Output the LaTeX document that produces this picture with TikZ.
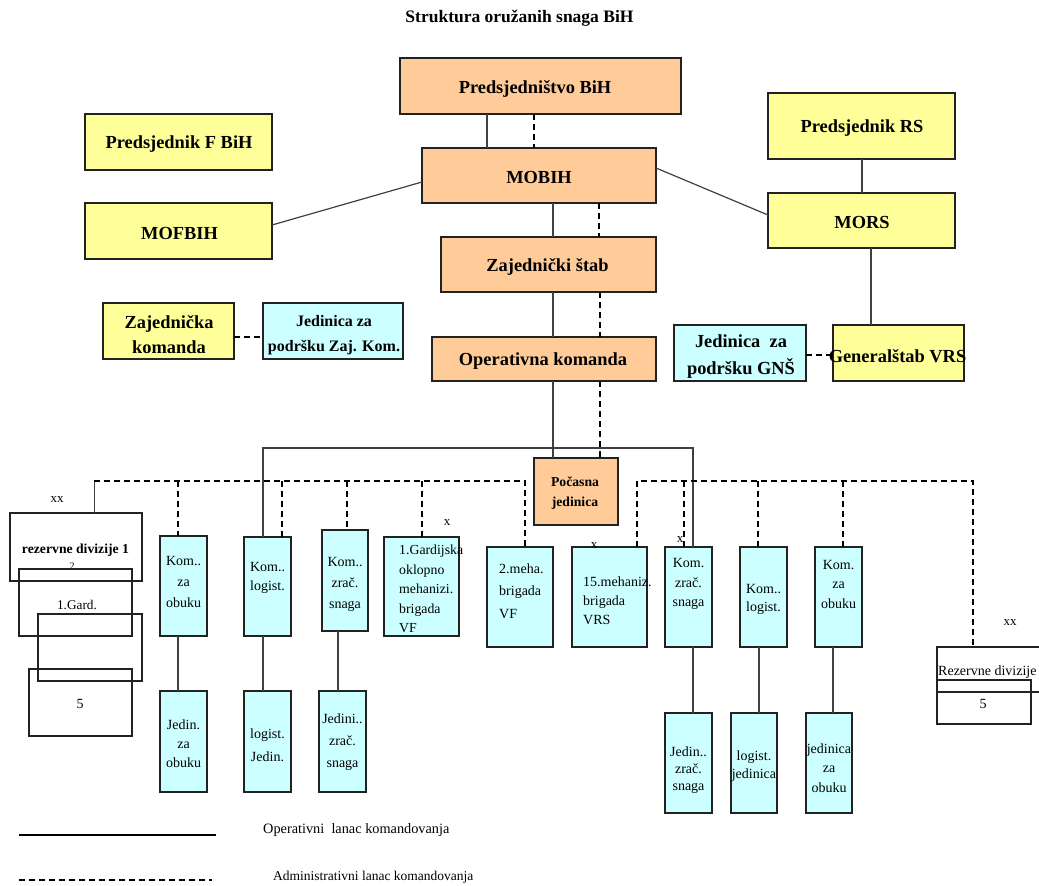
\documentclass[tikz,border=0pt]{standalone}
\usepackage{fontspec}
\setmainfont{Liberation Serif}
\definecolor{org}{HTML}{FFCC99}
\definecolor{yel}{HTML}{FFFF99}
\definecolor{cya}{HTML}{CCFFFF}
\definecolor{edgec}{HTML}{222222}
\newcommand\bx[9]{%
  \node[#1, minimum width={(#5-#3)*1pt}, minimum height={(#6-#4)*1pt}] (#2) at ({(#3+#5)/2},{(#4+#6)/2}) {};
  \node[#8] (#2t) at (#7) {#9};}
\tikzset{
  base/.style={draw=edgec, line width=1.2pt, inner sep=0pt, outer sep=0pt, rectangle},
  obox/.style={base, fill=org},
  ybox/.style={base, fill=yel},
  cbox/.style={base, fill=cya},
  wbox/.style={base},
  big/.style={inner sep=0pt, align=center, font=\fontsize{18.4}{25}\selectfont\bfseries},
  sm/.style={inner sep=0pt, align=center, font=\fontsize{14}{21}\selectfont},
  smL/.style={inner sep=0pt, align=left, anchor=west, font=\fontsize{14}{20}\selectfont},
  op/.style={draw=black!75, line width=1.2pt},
  adm/.style={draw=black, line width=2pt, dash pattern=on 6pt off 4pt},
}
\begin{document}
\begin{tikzpicture}[x=1pt, y=-1pt]
\useasboundingbox (0,0) rectangle (1039,886);
\clip (0,0) rectangle (1039,886);
\fill[white] (0,0) rectangle (1039,886);

\node[inner sep=0pt, font=\fontsize{17.5}{20}\selectfont\bfseries] (title) at (519.5,18) {Struktura oružanih snaga BiH};

% top boxes
\bx{obox}{pred}{400}{58}{681}{114}{535,89}{big}{Predsjedništvo BiH}
\bx{obox}{mobih}{422}{148}{656}{203}{539,177}{big}{MOBIH}
\bx{ybox}{pfbih}{85}{114}{272}{170}{179,144}{big}{Predsjednik F BiH}
\bx{ybox}{mofbih}{85}{203}{272}{259}{179.5,233}{big}{MOFBIH}
\bx{ybox}{prs}{768}{93}{955}{159}{862,128}{big}{Predsjednik RS}
\bx{ybox}{mors}{768}{193}{955}{248}{862,222}{big}{MORS}
\bx{obox}{zs}{441}{237}{656}{292}{547.5,267}{big}{Zajednički štab}
\bx{obox}{ok}{432}{337}{656}{381}{543,361}{big}{Operativna komanda}
\bx{ybox}{zk}{103}{303}{234}{359}{169,335}{big}{Zajednička\\komanda}
\bx{cbox}{jzk}{263}{303}{403}{359}{334,335}{big,font=\fontsize{16}{25}\selectfont\bfseries}{Jedinica za\\podršku Zaj. Kom.}
\bx{cbox}{jgns}{674}{325}{806}{381}{741,357}{big,font=\fontsize{18.4}{27}\selectfont\bfseries}{Jedinica\ \ za\\podršku GNŠ}
\bx{ybox}{gvrs}{833}{325}{964}{381}{897.5,356}{big}{Generalštab VRS}
\bx{obox}{poc}{534}{458}{618}{525}{575,493}{inner sep=0pt,align=center,font=\fontsize{13.7}{20}\selectfont\bfseries}{Počasna\\jedinica}

% left reserve divisions
\bx{wbox}{rd1}{10}{513}{142}{581}{75.5,550}{inner sep=0pt,font=\fontsize{13.7}{16}\selectfont\bfseries}{rezervne divizije 1}
\node[inner sep=0pt, font=\fontsize{10}{11}\selectfont] (rd1two) at (72,566) {2};
\bx{wbox}{rga}{19}{569}{132}{636}{77,605}{inner sep=0pt,font=\fontsize{13.3}{16}\selectfont}{1.Gard.}
\bx{wbox}{rgb}{38}{614}{142}{681}{90,647}{inner sep=0pt}{}
\bx{wbox}{rgc}{29}{669}{132}{736}{80,704}{inner sep=0pt,font=\fontsize{14}{16}\selectfont}{5}
\node[inner sep=0pt, font=\fontsize{13}{14}\selectfont] (xx1) at (57,500) {xx};

% cyan units left
\bx{cbox}{kob1}{160}{536}{207}{636}{183.5,582}{sm}{Kom..\\za\\obuku}
\bx{cbox}{job1}{160}{691}{207}{792}{183.5,744}{sm,font=\fontsize{14}{19}\selectfont}{Jedin.\\za\\obuku}
\bx{cbox}{koml}{244}{537}{291}{636}{267.5,578}{sm,font=\fontsize{14}{19}\selectfont}{Kom..\\logist.}
\bx{cbox}{jl}{244}{691}{291}{792}{267.5,745}{sm,font=\fontsize{14}{23}\selectfont}{logist.\\Jedin.}
\bx{cbox}{kzs}{322}{530}{368}{631}{345,584}{sm}{Kom..\\zrač.\\snaga}
\bx{cbox}{jzs}{319}{691}{366}{792}{342.5,742}{sm,font=\fontsize{14}{22}\selectfont}{Jedini..\\zrač.\\snaga}
\bx{cbox}{g1}{384}{537}{459}{636}{399,589}{smL,font=\fontsize{13.8}{19.5}\selectfont}{1.Gardijska\\oklopno\\mehanizi.\\brigada\\VF}
\node[inner sep=0pt, font=\fontsize{13}{14}\selectfont] (x1) at (447,523) {x};
\bx{cbox}{m2}{487}{547}{553}{647}{499,591}{smL,font=\fontsize{14}{22.5}\selectfont}{2.meha.\\brigada\\VF}
\bx{cbox}{m15}{572}{547}{647}{647}{583,601}{smL,font=\fontsize{14}{19}\selectfont}{15.mehaniz.\\brigada\\VRS}
\node[inner sep=0pt, font=\fontsize{13}{14}\selectfont] (x2) at (594,546) {x};

% cyan units right
\bx{cbox}{kzsR}{665}{547}{712}{647}{688.5,584}{sm,font=\fontsize{14}{19.5}\selectfont}{Kom.\\zrač.\\snaga}
\node[inner sep=0pt, font=\fontsize{13}{14}\selectfont] (x3) at (680,540) {x};
\bx{cbox}{jzsR}{665}{713}{712}{813}{688.5,770}{sm,font=\fontsize{14}{17}\selectfont}{Jedin..\\zrač.\\snaga}
\bx{cbox}{komlR}{740}{547}{787}{647}{763.5,599}{sm,font=\fontsize{14}{18}\selectfont}{Kom..\\logist.}
\bx{cbox}{jlR}{731}{713}{777}{813}{754,766}{sm,font=\fontsize{14}{18}\selectfont}{logist.\\jedinica}
\bx{cbox}{kobR}{815}{547}{862}{647}{838.5,584}{sm,font=\fontsize{14}{19.5}\selectfont}{Kom.\\za\\obuku}
\bx{cbox}{jobR}{806}{713}{852}{813}{829,768}{sm,font=\fontsize{14}{19.5}\selectfont}{jedinica\\za\\obuku}

% right reserve division
\bx{wbox}{rd2}{937}{647}{1045}{692}{938,672}{inner sep=0pt,anchor=west,font=\fontsize{14}{16}\selectfont}{Rezervne divizije}
\bx{wbox}{rd2b}{937}{680}{1031}{724}{983,704}{inner sep=0pt,font=\fontsize{14}{16}\selectfont}{5}
\node[inner sep=0pt, font=\fontsize{13}{14}\selectfont] (xx2) at (1010,623) {xx};

% operative chain (solid)
\draw[op] (pred.south -| 487,0) -- (mobih.north -| 487,0);
\draw[op] (mobih.south -| 553,0) -- (zs.north -| 553,0);
\draw[op] (zs.south -| 553,0) -- (ok.north -| 553,0);
\draw[op] (ok.south -| 553,0) -- (poc.north -| 553,0);
\draw[op] (mofbih.east |- 0,225) -- (mobih.west |- 0,182);
\draw[op] (mobih.east |- 0,168) -- (mors.west |- 0,215);
\draw[op] (prs.south -| 862,0) -- (mors.north -| 862,0);
\draw[op] (mors.south -| 871,0) -- (gvrs.north -| 871,0);
\coordinate (ol) at (263,448);
\coordinate (or) at (693,448);
\draw[op] (koml.north -| ol) -- (ol) -- (or) -- (kzsR.north -| or);
\draw[op] (kob1.south -| 178,0) -- (job1.north -| 178,0);
\draw[op] (koml.south -| 263,0) -- (jl.north -| 263,0);
\draw[op] (kzs.south -| 338,0) -- (jzs.north -| 338,0);
\draw[op] (kzsR.south -| 693,0) -- (jzsR.north -| 693,0);
\draw[op] (komlR.south -| 759,0) -- (jlR.north -| 759,0);
\draw[op] (kobR.south -| 833,0) -- (jobR.north -| 833,0);

% administrative chain (dashed)
\draw[adm] (pred.south -| 534,0) -- (mobih.north -| 534,0);
\draw[adm] (mobih.south -| 599,0) -- (zs.north -| 599,0);
\draw[adm] (zs.south -| 600,0) -- (ok.north -| 600,0);
\draw[adm] (ok.south -| 600,0) -- (poc.north -| 600,0);
\draw[adm] (zk.east |- 0,337) -- (jzk.west |- 0,337);
\draw[adm] (jgns.east |- 0,355) -- (gvrs.west |- 0,355);
\coordinate (hl) at (94,481);
\coordinate (hr) at (525,481);
\draw[op, line width=1pt] (hl) -- (rd1.north -| hl);
\draw[adm] (hl) -- (hr) -- (m2.north -| hr);
\foreach \n/\x in {kob1/178, koml/282, kzs/347, g1/422}
  \draw[adm] (hl -| \x,0) -- (\n.north -| \x,0);
\coordinate (rl) at (637,481);
\coordinate (rr) at (973,481);
\draw[adm] (m15.north -| rl) -- (rl) -- (rr) -- (rd2.north -| rr);
\foreach \n/\x in {kzsR/684, komlR/758, kobR/843}
  \draw[adm] (rl -| \x,0) -- (\n.north -| \x,0);

% legend
\coordinate (lga) at (19,835);
\coordinate (lgb) at (216,835);
\draw[op, draw=black] (lga) -- (lgb);
\node[inner sep=0pt, anchor=west, font=\fontsize{14.3}{16}\selectfont] (lgt1) at (263,830) {Operativni\ \ lanac komandovanja};
\coordinate (lgc) at (19,880);
\coordinate (lgd) at (212,880);
\draw[adm] (lgc) -- (lgd);
\node[inner sep=0pt, anchor=west, font=\fontsize{13.5}{16}\selectfont] (lgt2) at (273,877) {Administrativni lanac komandovanja};
\end{tikzpicture}
\end{document}
